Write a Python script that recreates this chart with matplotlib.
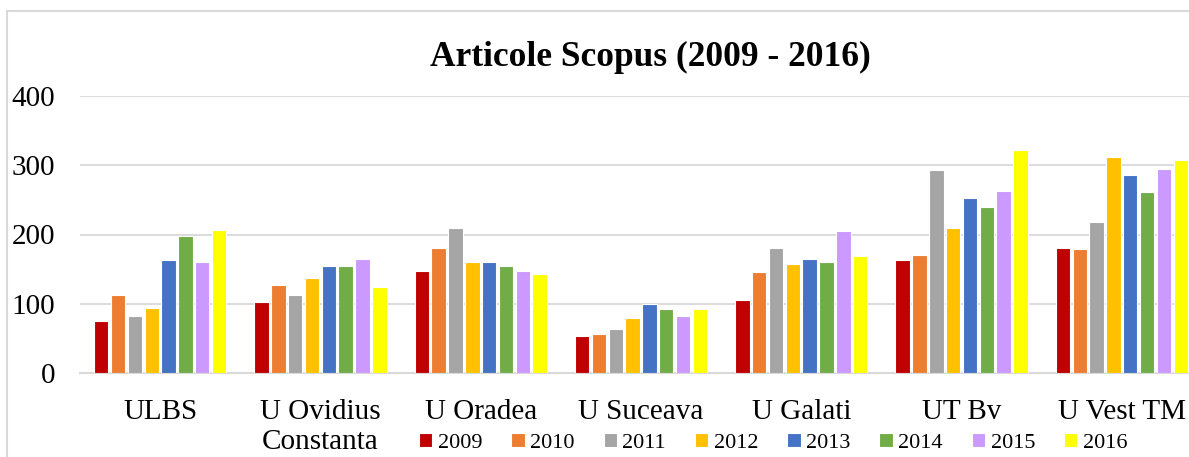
import matplotlib.pyplot as plt
import numpy as np
from matplotlib.lines import Line2D

universities = ['ULBS', 'U Ovidius\nConstanta', 'U Oradea', 'U Suceava',
                'U Galati', 'UT Bv', 'U Vest TM']
years = ['2009', '2010', '2011', '2012', '2013', '2014', '2015', '2016']

# articles per year, one list per university column
y2009 = [75, 103, 148, 54, 105, 163, 180]
y2010 = [112, 127, 180, 57, 146, 171, 179]
y2011 = [83, 112, 210, 64, 180, 293, 218]
y2012 = [94, 137, 161, 79, 157, 210, 312]
y2013 = [163, 155, 161, 99, 164, 253, 286]
y2014 = [198, 154, 154, 93, 160, 239, 262]
y2015 = [161, 165, 148, 83, 205, 263, 295]
y2016 = [206, 124, 143, 92, 169, 322, 308]

series = [y2009, y2010, y2011, y2012, y2013, y2014, y2015, y2016]
colors = ['#C00000', '#ED7D31', '#A5A5A5', '#FFC000',
          '#4472C4', '#70AD47', '#CC99FF', '#FFFF00']

plt.rcParams['font.family'] = ['Liberation Serif', 'DejaVu Serif']

W, H = 1189, 457
fig = plt.figure(figsize=(W / 100, H / 100), dpi=100)
ax = fig.add_axes([80 / W, (H - 373) / H, (1202 - 80) / W, (373 - 96) / H])

x = np.arange(len(universities))
pitch = 0.105
for i, (vals, col, yr) in enumerate(zip(series, colors, years)):
    ax.bar(x + (i - 3.5) * pitch, vals, width=0.09, color=col,
           edgecolor='white', linewidth=0.8, label=yr, zorder=3)

ax.set_xlim(-0.5, len(universities) - 0.5)
ax.set_ylim(0, 400)
ax.set_yticks([0, 100, 200, 300, 400])
ax.set_xticks(x)
ax.set_xticklabels(universities, fontsize=21, linespacing=1.2)
ax.tick_params(axis='y', labelsize=21, length=0, pad=18)
ax.tick_params(axis='x', length=0, pad=19)
ax.grid(axis='y', color='#d9d9d9', linewidth=1.3, zorder=0)
for s in ['top', 'right', 'left']:
    ax.spines[s].set_visible(False)
ax.spines['bottom'].set_color('#d9d9d9')
ax.spines['bottom'].set_linewidth(1.5)

fig.text(650 / W, 1 - 57 / H, 'Articole Scopus (2009 - 2016)',
         fontsize=25.5, fontweight='bold', ha='center', va='center')

fig.legend(loc='center left', bbox_to_anchor=(419 / W, 1 - 443 / H),
           ncol=8, frameon=False, fontsize=16, borderpad=0, borderaxespad=0,
           handlelength=0.6, handleheight=0.6, handletextpad=0.25,
           columnspacing=1.3)

# chart border (left and top visible in the crop)
fig.add_artist(Line2D([7 / W, 7 / W], [0, 1 - 11 / H], color='#d9d9d9', linewidth=1.5))
fig.add_artist(Line2D([7 / W, 1], [1 - 11 / H, 1 - 11 / H], color='#d9d9d9', linewidth=1.5))

fig.savefig('out.png', dpi=100, facecolor='white')
